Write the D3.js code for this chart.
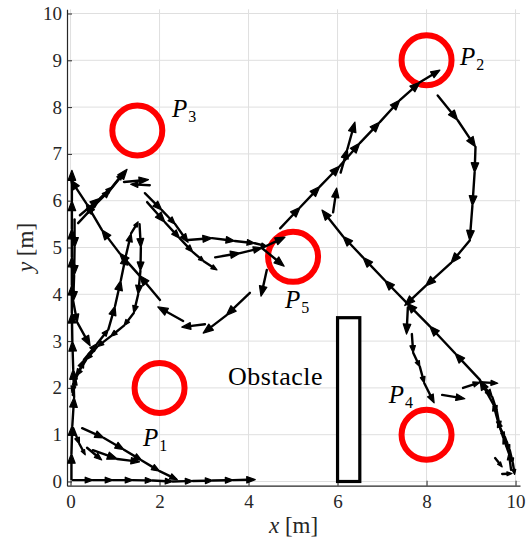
<!DOCTYPE html>
<html><head><meta charset="utf-8">
<script src="https://cdn.jsdelivr.net/npm/d3@7"></script>
<style>body{margin:0;background:#fff}svg{display:block}</style>
</head><body>
<svg id="chart" width="531" height="544"></svg>
<script>
// ---- data (metres) ----
const xTicks = [0, 2, 4, 6, 8, 10];
const yTicks = [0, 1, 2, 3, 4, 5, 6, 7, 8, 9, 10];

const targetNames = ["1", "2", "3", "4", "5"];
const targetX = [2, 8, 1.5, 8, 5];
const targetY = [2, 9, 7.5, 1, 4.8];
const labelX = [1.63, 8.75, 2.28, 7.15, 4.82];
const labelY = [0.76, 8.9, 7.78, 1.68, 3.71];

const obstacleX = [6, 6.5];
const obstacleY = [0, 3.5];
const obstacleLabel = "Obstacle";
const obstacleLabelPos = [3.54, 2.06];

// trajectory pieces: consecutive points = one quiver arrow
const trackBottom = [[0.05,0.03],[0.5,0.03],[0.95,0.03],[1.4,0.03],[1.85,0.02],[2.3,0.0],[2.75,0.01],[3.2,0.02],[3.65,0.03],[4.15,0.04]];
const trackCurve1 = [[0.26,1.14],[0.75,0.93],[1.2,0.68],[1.6,0.45],[2.0,0.22],[2.4,0.04]];
const trackCurve2a = [[0.06,1.14],[0.2,0.8],[0.33,0.57]];
const trackCurve2b = [[0.37,0.72],[0.7,0.46]];
const trackCurve2c = [[0.5,0.67],[1.05,0.48],[1.55,0.42]];
const trackLeftUp = [[0.02,0.05],[0.02,0.6],[0.04,1.2],[0.08,1.8],[0.06,2.4],[0.04,3.0],[0.03,3.6],[0.03,4.2],[0.03,4.8],[0.03,5.4],[0.03,6.0],[0.03,6.65]];
const trackLeftDown = [[0.09,5.6],[0.09,5.0],[0.08,4.4],[0.06,3.85],[0.15,3.4],[0.44,2.9]];
const trackLoopUp = [[0.05,1.85],[0.12,2.2],[0.3,2.6],[0.6,2.95],[0.85,3.25],[1.0,3.75],[1.13,4.3],[1.25,4.85],[1.36,5.3],[1.52,5.55]];
const trackLoopDown = [[1.55,5.5],[1.58,5.0],[1.57,4.5],[1.52,4.0],[1.42,3.6],[1.2,3.33],[0.9,3.1],[0.6,2.88],[0.35,2.6],[0.12,2.25],[0.03,1.9]];
const trackSW = [[4.03,4.03],[3.5,3.55],[2.98,3.17]];
const trackLeftArrow = [[3.02,3.36],[2.5,3.3]];
const trackBack = [[2.53,3.43],[1.96,3.73]];
const trackDiag = [[2.01,3.88],[1.55,4.4],[1.1,4.88],[0.7,5.38],[0.35,5.95],[0.0,6.45]];
const trackToP3a = [[0.17,5.52],[0.55,5.91],[0.89,6.23],[1.27,6.67]];
const trackToP3b = [[0.21,5.69],[0.66,6.05],[0.93,6.29],[1.18,6.59]];
const trackP3Right = [[1.2,6.4],[1.75,6.45]];
const trackP3Left = [[1.78,6.33],[1.35,6.35]];
const trackE1 = [[1.67,6.16],[2.05,5.8],[2.35,5.5],[2.64,5.11]];
const trackE2 = [[1.72,5.97],[2.12,5.54],[2.45,5.2],[2.75,4.9],[3.0,4.7],[3.29,4.52]];
const trackE3 = [[2.64,5.16],[3.18,5.2],[3.69,5.14],[4.14,5.09],[4.4,5.03]];
const trackE4 = [[3.25,4.79],[3.81,4.88],[4.3,4.99],[4.82,5.22]];
const trackToP5 = [[4.3,4.99],[4.8,4.6]];
const trackP5Down = [[4.41,4.52],[4.28,3.96]];
const trackF = [[4.71,5.41],[5.16,5.86],[5.6,6.3],[6.05,6.74],[6.5,7.23],[6.95,7.68],[7.4,8.15],[7.85,8.53],[8.3,8.79]];
const trackG = [[8.25,8.25],[8.7,7.72],[9.1,7.15],[9.08,6.6],[9.03,5.89],[8.97,5.15],[8.55,4.67],[7.98,4.18],[7.51,3.76]];
const trackH1 = [[7.58,3.72],[7.55,3.15]];
const trackH2 = [[7.67,3.15],[7.7,2.75],[7.85,2.45],[7.95,2.1],[8.17,1.68]];
const trackP4Right = [[8.35,1.85],[8.86,1.77]];
const trackRight1 = [[8.82,2.0],[9.2,2.12],[9.6,2.1]];
const trackRightDown = [[9.2,2.15],[9.48,1.8],[9.58,1.5],[9.65,1.15],[9.76,0.95],[9.87,0.67],[9.94,0.39],[9.98,0.15]];
const trackDiagNE = [[9.9,0.25],[9.85,0.6],[9.72,0.95],[9.6,1.3],[9.5,1.65],[9.2,2.17],[8.64,2.74],[8.07,3.32],[7.56,3.81],[7.06,4.3],[6.57,4.79],[6.12,5.24],[5.65,5.8]];
const trackSmall1 = [[9.54,0.5],[9.7,0.31]];
const trackSmall2 = [[9.7,0.16],[9.92,0.17]];
const trackUp6a = [[5.9,5.75],[5.98,6.27]];
const trackUp6b = [[6.07,6.6],[6.22,7.1],[6.39,7.68]];

const tracks = [trackBottom, trackCurve1, trackCurve2a, trackCurve2b, trackCurve2c, trackLeftUp, trackLeftDown,
  trackLoopUp, trackLoopDown, trackSW, trackLeftArrow, trackBack, trackDiag, trackToP3a, trackToP3b,
  trackP3Right, trackP3Left, trackE1, trackE2, trackE3, trackE4, trackToP5, trackP5Down, trackF, trackG,
  trackH1, trackH2, trackP4Right, trackRight1, trackRightDown, trackDiagNE, trackSmall1, trackSmall2,
  trackUp6a, trackUp6b];

// ---- drawing ----
const svg = d3.select("#chart");
const x = d3.scaleLinear().domain([-0.08, 10.1]).range([67, 520]);
const y = d3.scaleLinear().domain([-0.09, 10.09]).range([485.7, 9.3]);
const axisColor = "#262626";
const serif = "'Liberation Serif', 'DejaVu Serif', serif";

// grid
const grid = svg.append("g");
grid.selectAll("line.gx").data(xTicks).join("line")
  .attr("x1", d => x(d)).attr("x2", d => x(d))
  .attr("y1", y.range()[0]).attr("y2", y.range()[1])
  .attr("stroke", "#dfdfdf").attr("stroke-width", 1);
grid.selectAll("line.gy").data(yTicks).join("line")
  .attr("y1", d => y(d)).attr("y2", d => y(d))
  .attr("x1", x.range()[0]).attr("x2", x.range()[1])
  .attr("stroke", "#dfdfdf").attr("stroke-width", 1);

// axes
const gx = svg.append("g").attr("transform", `translate(0,${y.range()[0]})`)
  .call(d3.axisBottom(x).tickValues(xTicks).tickSizeInner(-5).tickSizeOuter(0).tickPadding(9).tickFormat(d3.format("d")));
const gy = svg.append("g").attr("transform", `translate(${x.range()[0]},0)`)
  .call(d3.axisLeft(y).tickValues(yTicks).tickSizeInner(-5).tickSizeOuter(0).tickPadding(5).tickFormat(d3.format("d")));
[gx, gy].forEach(g => {
  g.select(".domain").attr("stroke", axisColor).attr("stroke-width", 1.2);
  g.selectAll(".tick line").attr("stroke", axisColor).attr("stroke-width", 1);
  g.selectAll(".tick text").attr("fill", axisColor).attr("font-family", serif).attr("font-size", 19);
});

// axis labels
const xl = svg.append("text").attr("x", (x.range()[0] + x.range()[1]) / 2).attr("y", 533)
  .attr("text-anchor", "middle").attr("font-family", serif).attr("font-size", 23).attr("fill", axisColor);
xl.append("tspan").attr("font-style", "italic").text("x");
xl.append("tspan").text(" [m]");
const yl = svg.append("text")
  .attr("transform", `translate(33,${(y.range()[0] + y.range()[1]) / 2}) rotate(-90)`)
  .attr("text-anchor", "middle").attr("font-family", serif).attr("font-size", 23).attr("fill", axisColor);
yl.append("tspan").attr("font-style", "italic").text("y");
yl.append("tspan").text(" [m]");

// obstacle
svg.append("rect")
  .attr("x", x(obstacleX[0])).attr("y", y(obstacleY[1]))
  .attr("width", x(obstacleX[1]) - x(obstacleX[0])).attr("height", y(obstacleY[0]) - y(obstacleY[1]))
  .attr("fill", "#fff").attr("stroke", "#000").attr("stroke-width", 3.2);
svg.append("text").attr("x", x(obstacleLabelPos[0])).attr("y", y(obstacleLabelPos[1]))
  .attr("font-family", serif).attr("font-size", 26).attr("letter-spacing", 0.5).attr("fill", "#000")
  .text(obstacleLabel);

// target circles
svg.append("g").selectAll("circle").data(targetNames).join("circle")
  .attr("cx", (d, i) => x(targetX[i])).attr("cy", (d, i) => y(targetY[i]))
  .attr("r", 25).attr("fill", "none").attr("stroke", "#ff0000").attr("stroke-width", 6);

// labels
const lab = svg.append("g").selectAll("text").data(targetNames).join("text")
  .attr("x", (d, i) => x(labelX[i])).attr("y", (d, i) => y(labelY[i]))
  .attr("font-family", serif).attr("font-size", 25).attr("fill", "#000");
lab.append("tspan").attr("font-style", "italic").text("P");
lab.append("tspan").attr("font-size", 16).attr("dy", 5).attr("dx", 1).text(d => d);

// quiver arrows
const arrows = [];
tracks.forEach(t => {
  for (let i = 0; i < t.length - 1; i++) arrows.push([t[i], t[i + 1]]);
});
const ag = svg.append("g");
arrows.forEach(([a, b]) => {
  const x0 = x(a[0]), y0 = y(a[1]), x1 = x(b[0]), y1 = y(b[1]);
  const dx = x1 - x0, dy = y1 - y0, len = Math.hypot(dx, dy);
  if (len < 0.5) return;
  const ux = dx / len, uy = dy / len;
  const hl = Math.min(10, Math.max(5, 0.38 * len)), hw = 0.38 * hl;
  const bx = x1 - ux * hl, by = y1 - uy * hl;
  ag.append("line").attr("x1", x0).attr("y1", y0).attr("x2", bx + ux * 1).attr("y2", by + uy * 1)
    .attr("stroke", "#000").attr("stroke-width", 2.4).attr("stroke-linecap", "round");
  ag.append("path")
    .attr("d", `M${x1},${y1}L${bx - uy * hw},${by + ux * hw}L${bx + uy * hw},${by - ux * hw}Z`)
    .attr("fill", "#000").attr("stroke", "#000").attr("stroke-width", 1.2).attr("stroke-linejoin", "round");
});
</script>
</body></html>
